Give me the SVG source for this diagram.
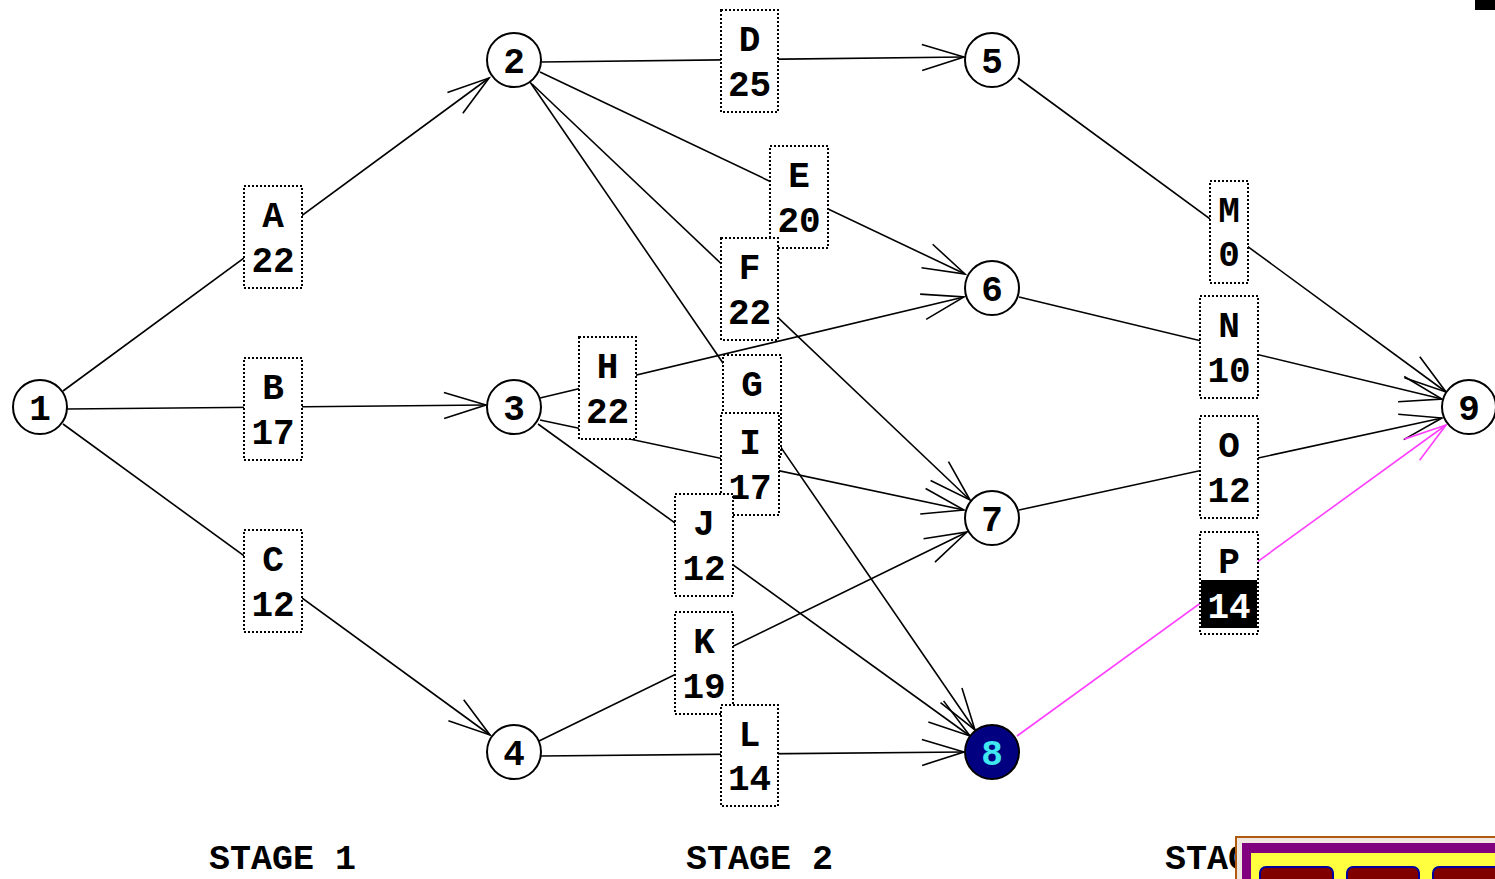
<svg xmlns="http://www.w3.org/2000/svg" width="1495" height="879" viewBox="0 0 1495 879">
<style>
.n circle{fill:#fff;stroke:#000;stroke-width:2}
.t{font-family:"Liberation Mono","DejaVu Sans Mono",monospace;font-weight:bold;font-size:36px;text-anchor:middle;fill:#000}
.b{fill:#fff;stroke:#000;stroke-width:2;stroke-dasharray:2,2}
.e line{stroke:#000;stroke-width:1.6;fill:none;marker-end:url(#ah)}
.st{font-family:"Liberation Mono","DejaVu Sans Mono",monospace;font-weight:bold;font-size:35px;fill:#000}
</style>
<defs>
<marker id="ah" markerUnits="userSpaceOnUse" markerWidth="50" markerHeight="40" refX="0" refY="0" viewBox="-45 -20 50 40" orient="auto" overflow="visible">
<path d="M-42,-13 L0,0 L-42,13" fill="none" stroke="#000" stroke-width="1.6"/>
</marker>
<marker id="ahm" markerUnits="userSpaceOnUse" markerWidth="50" markerHeight="40" refX="0" refY="0" viewBox="-45 -20 50 40" orient="auto" overflow="visible">
<path d="M-42,-13 L0,0 L-42,13" fill="none" stroke="#ff40ff" stroke-width="1.6"/>
</marker>
</defs>
<rect width="1495" height="879" fill="#fff"/>
<g id="connectors" class="e">
<line x1="63" y1="391" x2="489" y2="78"/>
<line x1="67" y1="409" x2="486" y2="405"/>
<line x1="63" y1="424" x2="490" y2="735"/>
<line x1="541" y1="62" x2="964" y2="57"/>
<line x1="540" y1="72" x2="965" y2="274"/>
<line x1="532" y1="84" x2="970" y2="500"/>
<line x1="530" y1="82" x2="975" y2="730"/>
<line x1="540" y1="398" x2="964" y2="297"/>
<line x1="540" y1="420" x2="964" y2="510"/>
<line x1="538" y1="424" x2="970" y2="736"/>
<line x1="539" y1="741" x2="967" y2="532"/>
<line x1="541" y1="756" x2="964" y2="752"/>
<line x1="1018" y1="78" x2="1446" y2="392"/>
<line x1="1019" y1="297" x2="1442" y2="399"/>
<line x1="1019" y1="510" x2="1442" y2="418"/>
<line x1="1017" y1="736" x2="1446" y2="425" style="stroke:#ff40ff;marker-end:url(#ahm)"/>
</g>
<g id="label-A"><rect class="b" x="244" y="186" width="58" height="102"/><text class="t" x="273" y="227">A</text><text class="t" x="273" y="272">22</text></g>
<g id="label-B"><rect class="b" x="244" y="358" width="58" height="102"/><text class="t" x="273" y="399">B</text><text class="t" x="273" y="444">17</text></g>
<g id="label-C"><rect class="b" x="244" y="530" width="58" height="102"/><text class="t" x="273" y="571">C</text><text class="t" x="273" y="616">12</text></g>
<g id="label-D"><rect class="b" x="721" y="10" width="57" height="102"/><text class="t" x="749.500" y="51">D</text><text class="t" x="749.500" y="96">25</text></g>
<g id="label-E"><rect class="b" x="770" y="146" width="58" height="102"/><text class="t" x="799" y="187">E</text><text class="t" x="799" y="232">20</text></g>
<g id="label-F"><rect class="b" x="721" y="238" width="57" height="102"/><text class="t" x="749.500" y="279">F</text><text class="t" x="749.500" y="324">22</text></g>
<g id="label-H"><rect class="b" x="579" y="337" width="57" height="102"/><text class="t" x="607.500" y="378">H</text><text class="t" x="607.500" y="423">22</text></g>
<g id="label-G"><rect class="b" x="723" y="355" width="58" height="102"/><text class="t" x="752" y="396">G</text></g>
<g id="label-I"><rect class="b" x="721" y="413" width="58" height="102"/><text class="t" x="750" y="454">I</text><text class="t" x="750" y="499">17</text></g>
<g id="label-J"><rect class="b" x="675" y="494" width="58" height="102"/><text class="t" x="704" y="535">J</text><text class="t" x="704" y="580">12</text></g>
<g id="label-K"><rect class="b" x="675" y="612" width="58" height="102"/><text class="t" x="704" y="653">K</text><text class="t" x="704" y="698">19</text></g>
<g id="label-L"><rect class="b" x="721" y="705" width="57" height="101"/><text class="t" x="749.500" y="746">L</text><text class="t" x="749.500" y="790">14</text></g>
<g id="label-M"><rect class="b" x="1210" y="181" width="38" height="102"/><text class="t" x="1229" y="222">M</text><text class="t" x="1229" y="266">0</text></g>
<g id="label-N"><rect class="b" x="1200" y="296" width="58" height="102"/><text class="t" x="1229" y="337">N</text><text class="t" x="1229" y="382">10</text></g>
<g id="label-O"><rect class="b" x="1200" y="416" width="58" height="102"/><text class="t" x="1229" y="457">O</text><text class="t" x="1229" y="502">12</text></g>
<g id="label-P"><rect class="b" x="1200" y="532" width="58" height="102"/><rect x="1201" y="580" width="56" height="48" fill="#000"/><text class="t" x="1229" y="573">P</text><text class="t" x="1229" y="618" style="fill:#fff">14</text></g>
<g id="node-1" class="n"><circle cx="40" cy="407" r="27"/><text class="t" x="40" y="420">1</text></g>
<g id="node-2" class="n"><circle cx="514" cy="60" r="27"/><text class="t" x="514" y="73">2</text></g>
<g id="node-3" class="n"><circle cx="514" cy="407" r="27"/><text class="t" x="514" y="420">3</text></g>
<g id="node-4" class="n"><circle cx="514" cy="752" r="27"/><text class="t" x="514" y="765">4</text></g>
<g id="node-5" class="n"><circle cx="992" cy="60" r="27"/><text class="t" x="992" y="73">5</text></g>
<g id="node-6" class="n"><circle cx="992" cy="288" r="27"/><text class="t" x="992" y="301">6</text></g>
<g id="node-7" class="n"><circle cx="992" cy="518" r="27"/><text class="t" x="992" y="531">7</text></g>
<g id="node-8" class="n"><circle cx="992" cy="752" r="27" style="fill:#000080"/><text class="t" x="992" y="765" style="fill:#40e8f0">8</text></g>
<g id="node-9" class="n"><circle cx="1469" cy="407" r="27"/><text class="t" x="1469" y="420">9</text></g>
<text class="st" x="209" y="869">STAGE 1</text>
<text class="st" x="686" y="869">STAGE 2</text>
<text class="st" x="1165" y="869">STAGE 3</text>
<g id="window">
<rect x="1236" y="837" width="262" height="50" fill="#f0e8e0" stroke="#b05a10" stroke-width="2"/>
<rect x="1242" y="843" width="260" height="44" fill="#800080"/>
<rect x="1251" y="853" width="250" height="30" fill="#ffff40"/>
<rect x="1260" y="867" width="73" height="20" rx="6" fill="#800000" stroke="#0000a0" stroke-width="2"/>
<rect x="1347" y="867" width="72" height="20" rx="6" fill="#800000" stroke="#0000a0" stroke-width="2"/>
<rect x="1433" y="867" width="72" height="20" rx="6" fill="#800000" stroke="#0000a0" stroke-width="2"/>
</g>
<rect x="1475" y="0" width="20" height="10" fill="#000"/>
</svg>
